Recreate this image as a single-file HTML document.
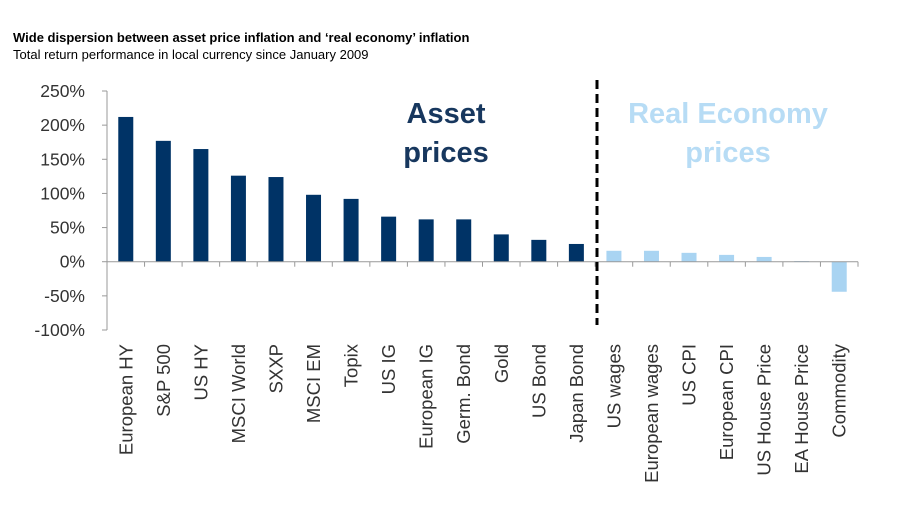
<!DOCTYPE html>
<html><head><meta charset="utf-8"><style>
body{margin:0;background:#fff;font-family:"Liberation Sans",Arial,sans-serif;}
svg{display:block}
</style></head><body>
<svg id="chart" width="905" height="518">
<text x="13" y="42" font-size="13" font-weight="bold" fill="#000">Wide dispersion between asset price inflation and ‘real economy’ inflation</text>
<text x="13" y="59" font-size="13" fill="#000">Total return performance in local currency since January 2009</text>
<g id="plot"></g>
<text x="446" y="123" font-size="29" font-weight="bold" fill="#17375e" text-anchor="middle">Asset</text>
<text x="446" y="162" font-size="29" font-weight="bold" fill="#17375e" text-anchor="middle">prices</text>
<text x="728" y="123" font-size="29" font-weight="bold" fill="#b7dcf5" text-anchor="middle">Real Economy</text>
<text x="728" y="162" font-size="29" font-weight="bold" fill="#b7dcf5" text-anchor="middle">prices</text>
<line x1="597" y1="80" x2="597" y2="325" stroke="#000" stroke-width="3" stroke-dasharray="9,5"/>
</svg>
<script>
const categories=["European HY","S&P 500","US HY","MSCI World","SXXP","MSCI EM","Topix","US IG","European IG","Germ. Bond","Gold","US Bond","Japan Bond","US wages","European wages","US CPI","European CPI","US House Price","EA House Price","Commodity"];
const values=[212,177,165,126,124,98,92,66,62,62,40,32,26,16,16,13,10,7,1,-44];
const groups=["asset","asset","asset","asset","asset","asset","asset","asset","asset","asset","asset","asset","asset","real","real","real","real","real","real","real"];
const yTicks=[250,200,150,100,50,0,-50,-100];
const NS="http://www.w3.org/2000/svg";
const g=document.getElementById('plot');
const x0=107,x1=858,yTop=91,yBot=330,vMax=250,vMin=-100;
const step=(x1-x0)/categories.length;
function y(v){return yTop+(vMax-v)/(vMax-vMin)*(yBot-yTop);}
function xc(i){return x0+step*(i+0.5);}
function mk(t,a){const e=document.createElementNS(NS,t);for(const k in a)e.setAttribute(k,a[k]);g.appendChild(e);return e;}
let ax=mk('line',{x1:x0,y1:yTop,x2:x0,y2:yBot,stroke:'#999','stroke-width':1});


yTicks.forEach(v=>{
 let t=mk('line',{x1:x0-5,y1:y(v),x2:x0,y2:y(v),stroke:'#999'});
 
 
 let l=mk('text',{x:x0-22,y:y(v)+6,'font-size':17.5,'text-anchor':'end',fill:'#333'});
 l.textContent=v+'%';
 
 
});
categories.forEach((c,i)=>{
 const v=values[i];
 let b=mk('rect',{x:xc(i)-7.5,y:Math.min(y(v),y(0)),width:15,height:Math.abs(y(v)-y(0)),fill:groups[i]=='asset'?'#003366':'#a9d4f2'});
 
 
 let t=mk('line',{x1:x0+step*(i+1),y1:y(0),x2:x0+step*(i+1),y2:y(0)+5,stroke:'#999'});
 
 
 let l=mk('text',{transform:`translate(${xc(i)+6.5},344) rotate(-90)`,'font-size':18.5,'text-anchor':'end',fill:'#333'});
 l.textContent=c;
 
 
});
let xa=mk('line',{x1:x0,y1:y(0),x2:x1,y2:y(0),stroke:'#999','stroke-width':1});


</script>
</body></html>
